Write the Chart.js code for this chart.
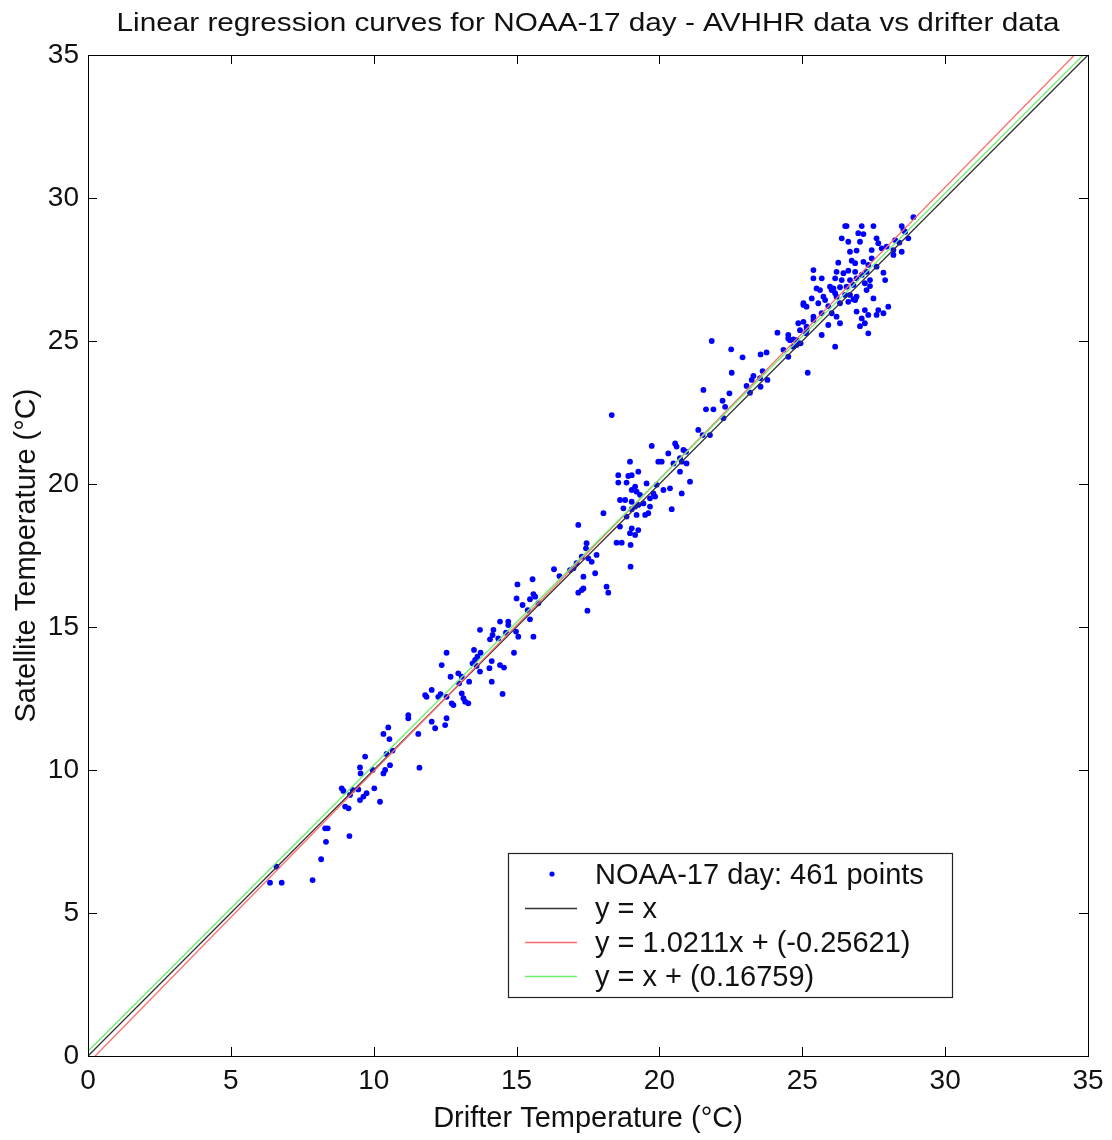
<!DOCTYPE html>
<html>
<head>
<meta charset="utf-8">
<script src="https://cdn.jsdelivr.net/npm/chart.js@4.4.1/dist/chart.umd.min.js"></script>
<style>
  html, body { margin: 0; padding: 0; background: #fff; }
  canvas { display: block; }
</style>
</head>
<body>
<canvas id="myChart" width="1112" height="1140"></canvas>
<script>
// Chart title and labels
var chartTitle = 'Linear regression curves for NOAA-17 day - AVHHR data vs drifter data';
var xLabel = 'Drifter Temperature (°C)';
var yLabel = 'Satellite Temperature (°C)';

// axis range / ticks
var axisMin = 0;
var axisMax = 35;
var tickStep = 5;

// drifter temperature (x) of each matchup
var drifterTemp = [
	10.51, 10.34, 10.55, 11.56, 10.45, 10.66, 9.70, 9.52, 9.96, 9.54, 10.40, 10.34, 10.57, 11.60,
	8.88, 8.94, 9.26, 9.46, 9.17, 9.75, 9.64, 9.52, 10.02, 10.22, 9.00, 9.12, 8.30, 8.39, 8.33,
	9.15, 8.16, 6.60, 6.37, 6.78, 7.86,
	16.31, 16.50, 15.56, 15.03, 15.59, 15.47, 15.65, 15.00, 15.21, 15.39, 15.47, 15.76,
	14.42, 14.71, 14.71, 14.19, 13.72, 14.16, 14.07, 14.36, 14.63, 14.98, 15.06, 15.59,
	12.55, 13.51, 13.74, 13.63, 13.55, 13.46, 13.60, 13.72, 14.13, 14.05, 14.42, 14.56, 14.91,
	12.38, 12.96, 12.69, 13.08, 13.34, 12.99, 14.13, 14.51, 12.03, 11.80, 11.85, 12.26, 12.34,
	12.55, 13.08, 13.14, 13.20, 13.31, 12.79, 12.73, 11.21, 11.21, 12.03, 12.55, 12.50, 12.15,
	18.33, 21.63, 21.89, 21.36, 21.51, 21.77, 19.73, 20.55, 20.60, 20.31, 20.84, 20.93, 20.72,
	20.78, 20.49, 20.95, 19.96, 20.08, 18.97, 19.26, 19.03, 18.91, 18.56, 20.72, 21.07, 18.56,
	18.85, 19.55, 19.90, 20.14, 20.37, 20.78, 19.15, 19.03, 19.20, 19.32, 19.79, 19.85, 19.67,
	18.62, 18.80, 19.03, 19.26, 19.44, 19.15, 19.03, 18.74, 19.67, 20.43, 18.04, 18.85, 19.20,
	19.50, 19.61, 18.62, 19.03, 19.26, 18.97, 19.15, 17.16, 18.50, 18.68, 18.99, 17.45, 17.43,
	17.28, 17.51, 17.10, 17.80, 17.63, 16.87, 16.99, 18.99, 17.75, 17.34, 17.28, 17.34, 18.15,
	18.21, 17.16, 17.48,
	21.83, 22.51, 22.91, 23.54, 23.75, 24.13, 22.53, 23.29, 23.61, 23.23, 23.52, 23.78, 23.05,
	23.54, 23.17, 21.54, 22.45, 22.21, 22.30, 22.24, 24.51, 24.69, 24.80, 24.51, 24.86, 25.04,
	25.15, 25.39, 25.15, 25.19, 25.13, 24.94,
	26.50, 26.55, 27.08, 27.49, 28.89, 28.48, 28.54, 26.38, 26.61, 26.96, 27.14, 27.02, 27.60,
	27.66, 28.25, 28.40, 28.60, 28.71, 26.67, 26.90, 27.43, 27.78, 27.95, 28.19, 28.48, 28.19,
	26.26, 26.73, 26.85, 27.14, 27.43, 27.31, 25.39, 26.20, 26.44, 26.61, 26.85, 27.08, 27.25,
	27.60, 27.84, 27.90, 25.39, 25.68, 26.15, 26.38, 26.67, 26.90, 27.37, 25.50, 25.62, 25.97,
	26.09, 26.32, 26.55, 26.79, 27.19, 27.37, 25.33, 25.74, 26.03, 26.15, 26.20, 26.50, 26.67,
	26.90, 26.79, 27.25, 27.49, 25.04, 25.56, 25.80, 25.91, 26.32, 26.61, 26.85, 28.01, 27.66,
	25.68, 26.03, 26.90, 27.19, 27.31, 27.84, 27.60, 25.04, 25.39, 24.92, 25.15, 25.91, 26.20,
	26.32, 27.19, 27.08, 27.02, 24.51, 24.57, 24.80, 24.69, 25.68, 27.31, 26.15, 24.34
];

// satellite temperature (y) of each matchup, same order
var satelliteTemp = [
	11.49, 11.26, 11.08, 11.26, 10.56, 10.68, 10.47, 10.09, 10.00, 9.88, 10.00, 9.88, 10.17, 10.08,
	9.36, 9.27, 9.30, 9.32, 9.13, 9.19, 9.07, 8.95, 9.36, 8.89, 8.72, 8.66, 7.96, 7.96, 7.49,
	7.69, 6.88, 6.62, 6.06, 6.06, 6.15,
	17.02, 16.78, 16.67, 16.49, 16.15, 15.97, 16.06, 16.00, 15.77, 15.59, 15.27, 15.83,
	15.19, 15.19, 15.07, 14.90, 14.90, 14.72, 14.57, 14.60, 14.80, 14.84, 14.66, 14.66,
	14.10, 14.20, 14.10, 13.96, 13.85, 13.73, 13.64, 13.44, 13.81, 13.56, 13.67, 13.58, 14.10,
	13.67, 13.38, 13.26, 13.26, 13.09, 13.03, 13.09, 12.66, 12.80, 12.62, 12.56, 12.56, 12.65,
	12.56, 12.68, 12.51, 12.39, 12.33, 12.27, 12.33, 11.92, 11.81, 11.69, 11.81, 11.57, 11.46,
	22.41, 22.61, 22.61, 21.89, 21.71, 21.71, 21.33, 21.42, 21.31, 21.07, 21.19, 21.13, 20.90,
	20.78, 20.72, 20.72, 20.78, 20.78, 20.78, 20.43, 20.31, 20.28, 20.31, 20.43, 20.08, 20.05,
	20.05, 20.02, 19.97, 19.79, 19.85, 19.67, 19.91, 19.79, 19.73, 19.62, 19.67, 19.56, 19.50,
	19.44, 19.44, 19.38, 19.27, 19.32, 19.21, 19.12, 19.15, 19.21, 19.12, 18.98, 18.86, 18.92,
	18.92, 18.98, 18.51, 18.45, 18.39, 18.28, 18.22, 18.57, 17.95, 17.95, 17.87, 17.93, 17.75,
	17.46, 17.40, 17.23, 17.52, 17.28, 16.99, 17.05, 17.11, 16.88, 16.76, 16.29, 16.35, 16.41,
	16.20, 16.20, 15.57,
	25.00, 24.71, 24.43, 24.53, 24.60, 25.29, 23.89, 23.78, 23.95, 23.64, 23.70, 23.64, 23.43,
	23.40, 23.19, 23.29, 23.17, 22.91, 22.70, 22.30, 25.09, 25.06, 24.86, 24.45, 25.62, 26.32,
	26.20, 25.85, 25.50, 23.89, 25.27, 24.92,
	29.02, 29.02, 29.02, 29.02, 29.33, 29.02, 28.88, 28.59, 28.47, 28.77, 28.74, 28.47, 28.59,
	28.42, 28.53, 28.44, 28.82, 28.59, 28.12, 28.16, 28.18, 28.24, 28.30, 28.18, 28.12, 28.01,
	27.74, 27.81, 27.72, 27.77, 27.89, 27.66, 27.48, 27.42, 27.37, 27.46, 27.42, 27.31, 27.42,
	27.60, 27.39, 27.13, 27.19, 27.19, 27.19, 27.13, 27.13, 27.19, 27.13, 26.84, 26.78, 26.90,
	26.84, 26.88, 26.90, 26.96, 27.02, 26.92, 26.49, 26.55, 26.78, 26.67, 26.55, 26.61, 26.61,
	26.55, 26.46, 26.78, 26.49, 26.26, 26.32, 26.43, 26.22, 26.32, 26.37, 26.43, 26.20, 26.08,
	25.97, 25.97, 26.03, 26.08, 25.91, 25.97, 25.91, 25.67, 25.73, 25.38, 25.38, 25.56, 25.85,
	25.62, 25.62, 25.79, 25.52, 25.21, 25.03, 25.03, 24.80, 25.21, 25.27, 24.80, 24.69
];

// regression lines: y = slope * x + intercept
var lineNames = ['y = x', 'y = 1.0211x + (-0.25621)', 'y = x + (0.16759)'];
var lineSlopes = [1, 1.0211, 1];
var lineIntercepts = [0, -0.25621, 0.16759];
var lineColors = ['#333333', '#ff6a6a', '#6af06a'];
var scatterName = 'NOAA-17 day: 461 points';

var points = [];
for (var i = 0; i < drifterTemp.length; i++) {
	points.push({x: drifterTemp[i], y: satelliteTemp[i]});
}

var datasets = [{
	type: 'scatter',
	label: scatterName,
	data: points,
	pointStyle: 'circle',
	pointRadius: 2.9,
	pointBorderWidth: 0,
	backgroundColor: '#0000ff',
	borderColor: '#0000ff',
	order: 10
}];

for (var k = 0; k < lineNames.length; k++) {
	datasets.push({
		type: 'line',
		label: lineNames[k],
		data: [
			{x: axisMin, y: lineSlopes[k] * axisMin + lineIntercepts[k]},
			{x: axisMax, y: lineSlopes[k] * axisMax + lineIntercepts[k]}
		],
		borderColor: lineColors[k],
		borderWidth: 1.3,
		pointRadius: 0,
		fill: false,
		order: 3 - k
	});
}

var mainFont = '"Liberation Sans", Arial, Helvetica, sans-serif';

// box, inward ticks, title and legend (matlab look)
var matlabAxes = {
	id: 'matlabAxes',
	afterDraw: function(chart) {
		var ctx = chart.ctx;
		var a = chart.chartArea;
		var xs = chart.scales.x, ys = chart.scales.y;
		ctx.save();
		ctx.strokeStyle = '#000';
		ctx.lineWidth = 1;
		ctx.strokeRect(a.left + 0.5, a.top + 0.5, a.right - a.left, a.bottom - a.top);
		var tl = 9;
		ctx.beginPath();
		xs.ticks.forEach(function(t) {
			var px = Math.round(xs.getPixelForValue(t.value)) + 0.5;
			ctx.moveTo(px, a.bottom); ctx.lineTo(px, a.bottom - tl);
			ctx.moveTo(px, a.top); ctx.lineTo(px, a.top + tl);
		});
		ys.ticks.forEach(function(t) {
			var py = Math.round(ys.getPixelForValue(t.value)) + 0.5;
			ctx.moveTo(a.left, py); ctx.lineTo(a.left + tl, py);
			ctx.moveTo(a.right, py); ctx.lineTo(a.right - tl, py);
		});
		ctx.stroke();

		// title, centred over plot area
		ctx.fillStyle = '#111';
		ctx.font = '25px ' + mainFont;
		var w = ctx.measureText(chartTitle).width;
		var sx = 943 / w;
		ctx.translate((a.left + a.right) / 2, 31);
		ctx.scale(sx, 1);
		ctx.textAlign = 'center';
		ctx.textBaseline = 'alphabetic';
		ctx.fillText(chartTitle, 0, 0);
		ctx.restore();

		// legend box
		ctx.save();
		var lx = a.left + 420, ly = a.top + 798, lw = 444, lh = 144;
		ctx.fillStyle = '#fff';
		ctx.fillRect(lx, ly, lw, lh);
		ctx.strokeStyle = '#222';
		ctx.lineWidth = 1.2;
		ctx.strokeRect(lx + 0.5, ly + 0.5, lw, lh);
		ctx.font = '29px ' + mainFont;
		ctx.textBaseline = 'middle';
		ctx.textAlign = 'left';
		var metas = chart.data.datasets;
		for (var r = 0; r < metas.length; r++) {
			var ry = ly + 21 + r * 34;
			if (r === 0) {
				ctx.fillStyle = metas[r].backgroundColor;
				ctx.beginPath();
				ctx.arc(lx + 44, ry, 2.6, 0, Math.PI * 2);
				ctx.fill();
			} else {
				ctx.strokeStyle = metas[r].borderColor;
				ctx.lineWidth = 1.5;
				ctx.beginPath();
				ctx.moveTo(lx + 17, ry + 0.5);
				ctx.lineTo(lx + 69, ry + 0.5);
				ctx.stroke();
			}
			ctx.fillStyle = '#111';
			ctx.fillText(metas[r].label, lx + 87, ry + 2);
		}
		ctx.restore();
	}
};

var ctx = document.getElementById('myChart');
var myChart = new Chart(ctx, {
	type: 'scatter',
	data: { datasets: datasets },
	plugins: [matlabAxes],
	options: {
		responsive: false,
		animation: false,
		layout: { padding: { left: 0, right: 24, top: 55, bottom: 0 } },
		plugins: {
			legend: { display: false },
			title: { display: false },
			tooltip: { enabled: false }
		},
		scales: {
			x: {
				type: 'linear',
				min: axisMin,
				max: axisMax,
				grid: { display: false, drawTicks: false },
				border: { display: false },
				ticks: {
					stepSize: tickStep,
					color: '#111',
					padding: 8,
					maxRotation: 0,
					font: { family: mainFont, size: 28 }
				},
				title: {
					display: true,
					text: xLabel,
					color: '#111',
					font: { family: mainFont, size: 29 },
					padding: { top: 0, bottom: 4 }
				},
				afterFit: function(scale) { scale.height = 84; }
			},
			y: {
				type: 'linear',
				min: axisMin,
				max: axisMax,
				grid: { display: false, drawTicks: false },
				border: { display: false },
				ticks: {
					stepSize: tickStep,
					color: '#111',
					padding: 9,
					font: { family: mainFont, size: 28 }
				},
				title: {
					display: true,
					text: yLabel,
					color: '#111',
					font: { family: mainFont, size: 29 },
					padding: { top: 10, bottom: 0 }
				},
				afterFit: function(scale) { scale.width = 88; }
			}
		}
	}
});
</script>
</body>
</html>
